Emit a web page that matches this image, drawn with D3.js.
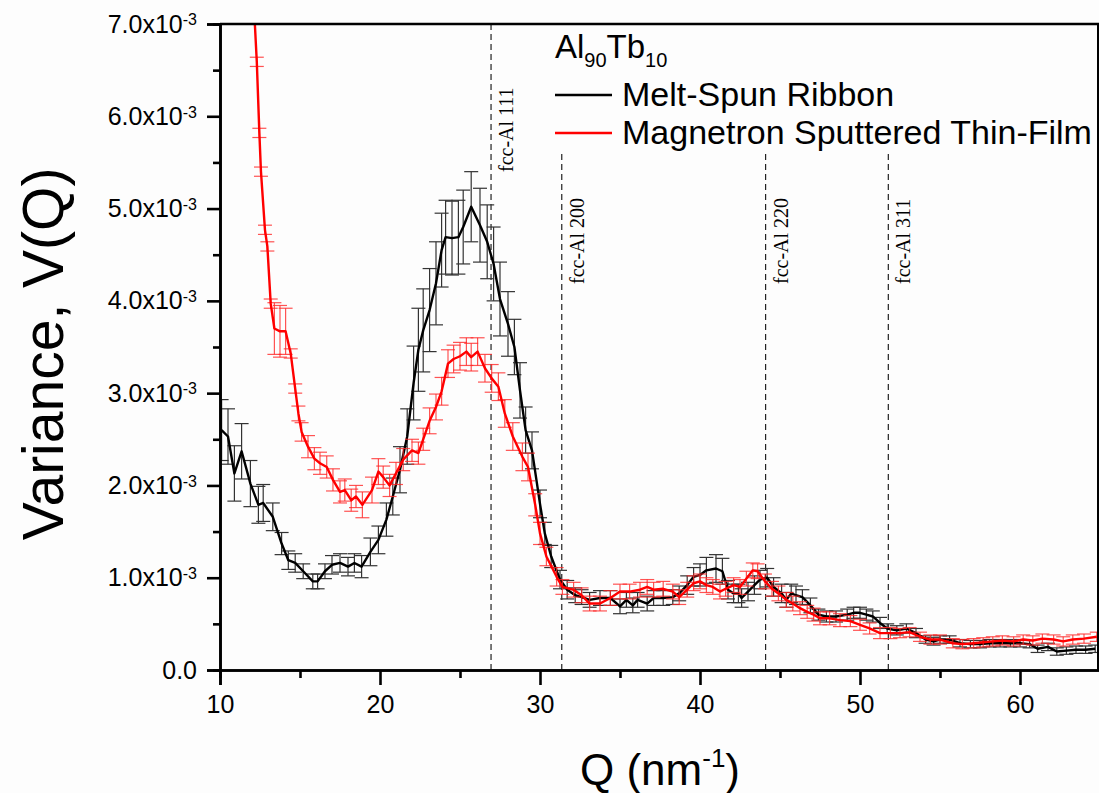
<!DOCTYPE html>
<html>
<head>
<meta charset="utf-8">
<script src="https://cdn.jsdelivr.net/npm/d3@7"></script>
<style>
  body { margin: 0; background: #fdfdfd; }
  text { font-family: "Liberation Sans", Arial, sans-serif; fill: #000; }
  .peak { font-family: "Liberation Serif", "DejaVu Serif", serif; font-size: 20px; }
</style>
</head>
<body>
<div id="chart"></div>
<script>
// Melt-spun ribbon (values in units of 1e-3)
const qRibbon = [10.1,10.5,10.9,11.35,11.9,12.4,12.7,13.3,13.85,14.27,14.7,15.2,15.8,16.1,16.56,17.0,17.5,18.0,18.4,18.85,
  19.4,19.9,20.4,20.8,21.25,21.7,22.1,22.4,22.7,23.1,23.5,23.85,24.1,24.5,24.9,25.2,25.7,26.25,26.7,27.1,
  27.5,28.0,28.4,28.75,29.1,29.5,30.0,30.3,30.7,31.25,31.7,32.2,32.6,33.1,33.75,34.4,35.0,35.4,35.8,36.1,
  36.7,37.1,37.7,38.3,38.7,39.2,39.6,40.0,40.4,41.0,41.4,41.75,42.1,42.4,42.6,43.0,43.4,43.75,44.2,44.6,
  45.1,45.4,45.7,46.0,46.4,46.9,47.4,47.9,48.5,49.2,49.6,50.0,50.4,50.8,51.25,51.7,52.3,52.9,53.5,54.1,
  54.6,55.0,55.6,56.25,56.9,57.5,58.1,58.75,59.4,60.0,60.6,61.1,61.75,62.3,62.9,63.5,64.1,64.7];
const vRibbon = [2.60,2.53,2.13,2.37,2.02,1.79,1.81,1.66,1.37,1.19,1.16,1.07,0.96,0.96,1.07,1.14,1.16,1.12,1.16,1.12,
  1.28,1.41,1.63,1.88,2.17,2.53,3.11,3.47,3.68,3.90,4.19,4.55,4.69,4.68,4.69,4.80,5.02,4.82,4.64,4.40,
  4.02,3.75,3.50,3.03,2.60,2.38,1.80,1.48,1.23,0.98,0.87,0.81,0.79,0.76,0.78,0.78,0.69,0.76,0.70,0.76,
  0.72,0.78,0.78,0.79,0.83,0.92,1.01,1.03,1.08,1.10,1.07,0.87,0.83,0.83,0.78,0.85,0.92,0.98,1.00,0.90,
  0.83,0.76,0.83,0.81,0.79,0.70,0.60,0.58,0.58,0.60,0.62,0.62,0.60,0.58,0.51,0.45,0.43,0.45,0.40,0.33,
  0.31,0.33,0.33,0.29,0.28,0.28,0.29,0.29,0.29,0.29,0.28,0.23,0.25,0.20,0.21,0.22,0.22,0.23];
const eRibbon = [0.33,0.30,0.30,0.30,0.25,0.20,0.20,0.15,0.12,0.10,0.10,0.08,0.08,0.08,0.08,0.10,0.10,0.10,0.10,0.12,
  0.15,0.15,0.18,0.20,0.25,0.30,0.40,0.45,0.45,0.45,0.45,0.40,0.40,0.40,0.40,0.40,0.38,0.40,0.40,0.40,
  0.40,0.35,0.30,0.30,0.25,0.20,0.15,0.12,0.12,0.10,0.10,0.08,0.08,0.08,0.08,0.08,0.08,0.08,0.08,0.08,
  0.08,0.08,0.08,0.08,0.08,0.10,0.10,0.12,0.14,0.15,0.14,0.10,0.10,0.10,0.10,0.10,0.10,0.10,0.10,0.10,
  0.10,0.08,0.10,0.10,0.08,0.08,0.06,0.06,0.06,0.06,0.06,0.06,0.06,0.06,0.06,0.05,0.05,0.05,0.05,0.04,
  0.04,0.04,0.04,0.04,0.04,0.04,0.04,0.04,0.04,0.04,0.04,0.04,0.04,0.04,0.04,0.04,0.04,0.04];

// Magnetron sputtered thin film (values in units of 1e-3)
const qFilm = [12.0,12.3,12.46,12.56,12.81,12.96,13.17,13.4,13.75,14.1,14.42,14.7,14.9,15.1,15.5,15.9,16.25,16.67,17.06,17.5,
  17.8,18.2,18.5,18.9,19.5,19.9,20.2,20.6,21.0,21.45,22.0,22.4,22.7,23.1,23.5,23.85,24.25,24.6,25.0,25.4,
  25.7,26.1,26.56,26.98,27.4,27.8,28.3,28.9,29.25,29.7,30.0,30.4,31.04,31.4,32.1,32.6,33.1,33.75,34.4,35.0,
  35.6,36.25,36.7,37.1,37.7,38.3,38.7,39.2,39.6,40.0,40.4,40.8,41.25,41.6,42.1,42.5,42.9,43.3,43.6,44.06,
  44.5,44.9,45.4,45.8,46.25,46.7,47.1,47.5,48.1,48.75,49.4,50.0,50.6,51.25,51.9,52.5,53.1,53.75,54.4,55.0,
  55.8,56.4,57.1,57.7,58.3,58.9,59.6,60.2,60.8,61.4,62.1,62.7,63.3,64.0,64.8];
const vFilm = [7.60,6.59,5.82,5.40,4.77,4.59,3.97,3.70,3.67,3.67,3.43,3.05,2.78,2.58,2.42,2.29,2.24,2.20,2.06,1.93,
  1.95,1.84,1.88,1.79,1.95,2.15,2.09,2.00,2.13,2.28,2.38,2.35,2.50,2.70,2.85,3.02,3.32,3.37,3.40,3.45,
  3.39,3.45,3.27,3.16,3.07,2.78,2.53,2.31,2.20,1.79,1.48,1.23,1.01,0.90,0.87,0.81,0.72,0.72,0.78,0.85,
  0.85,0.87,0.90,0.87,0.88,0.85,0.79,0.87,0.94,0.96,0.92,0.90,0.85,0.88,0.92,0.90,0.99,1.08,1.07,0.96,
  0.88,0.83,0.76,0.72,0.67,0.63,0.60,0.56,0.56,0.54,0.53,0.49,0.45,0.40,0.40,0.40,0.41,0.36,0.33,0.33,
  0.29,0.28,0.29,0.30,0.31,0.32,0.31,0.33,0.32,0.34,0.33,0.31,0.33,0.34,0.36];
const eFilm = [0.05,0.05,0.05,0.05,0.05,0.05,0.05,0.28,0.28,0.25,0.05,0.05,0.08,0.10,0.12,0.12,0.12,0.12,0.12,0.12,
  0.12,0.12,0.12,0.14,0.14,0.14,0.12,0.12,0.12,0.12,0.12,0.12,0.12,0.14,0.14,0.15,0.15,0.15,0.15,0.15,
  0.15,0.15,0.15,0.15,0.15,0.15,0.15,0.15,0.15,0.12,0.12,0.10,0.10,0.08,0.08,0.08,0.08,0.08,0.08,0.08,
  0.08,0.08,0.08,0.08,0.08,0.08,0.08,0.08,0.08,0.08,0.08,0.08,0.08,0.08,0.08,0.08,0.08,0.08,0.08,0.08,
  0.08,0.08,0.08,0.08,0.07,0.07,0.07,0.07,0.07,0.07,0.06,0.06,0.06,0.06,0.06,0.05,0.05,0.05,0.05,0.05,
  0.05,0.05,0.05,0.05,0.05,0.05,0.05,0.05,0.05,0.05,0.05,0.05,0.05,0.05,0.05];

const yTicks = [0, 1, 2, 3, 4, 5, 6, 7];
const xTicks = [10, 20, 30, 40, 50, 60];
const peakQ = [26.94, 31.36, 44.1, 51.77];
const peakLabels = ["fcc-Al 111", "fcc-Al 200", "fcc-Al 220", "fcc-Al 311"];
const seriesNames = ["Melt-Spun Ribbon", "Magnetron Sputtered Thin-Film"];

const width = 1099, height = 793;
const plotLeft = 220, plotRight = 1100, plotTop = 24, plotBottom = 670;

const svg = d3.select("#chart").append("svg")
    .attr("width", width)
    .attr("height", height);

const x = d3.scaleLinear().domain([10, 65]).range([plotLeft, plotRight]);
const y = d3.scaleLinear().domain([0, 7]).range([plotBottom, plotTop]);

svg.append("clipPath").attr("id", "plot")
    .append("rect")
    .attr("x", plotLeft).attr("y", plotTop)
    .attr("width", plotRight - plotLeft).attr("height", plotBottom - plotTop);

// peak marker lines
peakQ.forEach((q, i) => {
    svg.append("line")
        .attr("x1", x(q)).attr("x2", x(q))
        .attr("y1", plotBottom).attr("y2", i === 0 ? plotTop : 151)
        .attr("stroke", "#222")
        .attr("stroke-width", 1.2)
        .attr("stroke-dasharray", "6,4");
    svg.append("text")
        .attr("class", "peak")
        .attr("transform", `translate(${x(q) + 22},${i === 0 ? 172 : 284}) rotate(-90)`)
        .text(peakLabels[i]);
});

const drawSeries = (qs, vs, es, lineColor, barColor) => {
    const g = svg.append("g").attr("clip-path", "url(#plot)");
    const pts = qs.map((q, i) => ({ q: q, v: vs[i], e: es[i] }));
    const bars = g.selectAll(".bar")
        .data(pts)
        .enter()
        .append("g")
        .attr("stroke", barColor)
        .attr("stroke-width", 1.2);
    bars.append("line")
        .attr("x1", d => x(d.q)).attr("x2", d => x(d.q))
        .attr("y1", d => y(d.v - d.e)).attr("y2", d => y(d.v + d.e));
    bars.append("line")
        .attr("x1", d => x(d.q) - 7).attr("x2", d => x(d.q) + 7)
        .attr("y1", d => y(d.v - d.e)).attr("y2", d => y(d.v - d.e));
    bars.append("line")
        .attr("x1", d => x(d.q) - 7).attr("x2", d => x(d.q) + 7)
        .attr("y1", d => y(d.v + d.e)).attr("y2", d => y(d.v + d.e));

    const line = d3.line()
        .x(d => x(d.q))
        .y(d => y(d.v));
    g.append("path")
        .datum(pts)
        .attr("d", line)
        .attr("fill", "none")
        .attr("stroke", lineColor)
        .attr("stroke-width", 2.4)
        .attr("stroke-linejoin", "round");
};

drawSeries(qRibbon, vRibbon, eRibbon, "#000", "#333");
drawSeries(qFilm, vFilm, eFilm, "#ff0000", "rgba(255,40,40,0.8)");

// axes
const xAxis = svg.append("g")
    .attr("transform", `translate(0,${plotBottom})`)
    .call(d3.axisBottom(x).tickValues(xTicks).tickSize(15).tickPadding(10));
svg.append("g")
    .attr("transform", `translate(0,${plotBottom})`)
    .call(d3.axisBottom(x).tickValues([15, 25, 35, 45, 55]).tickSize(8).tickFormat(""));

const yAxis = svg.append("g")
    .attr("transform", `translate(${plotLeft},0)`)
    .call(d3.axisLeft(y).tickValues(yTicks).tickSize(13).tickPadding(10).tickFormat(d => d.toFixed(1)));
svg.append("g")
    .attr("transform", `translate(${plotLeft},0)`)
    .call(d3.axisLeft(y).tickValues([0.5, 1.5, 2.5, 3.5, 4.5, 5.5, 6.5]).tickSize(7).tickFormat(""));

svg.selectAll(".domain, .tick line").attr("stroke", "#000").attr("stroke-width", 2.6);
xAxis.selectAll("text").attr("font-size", 25).attr("font-family", null);
yAxis.selectAll("text")
    .attr("font-size", 25)
    .attr("font-family", null)
    .each(function (d) {
        if (d === 0) return;
        const t = d3.select(this);
        t.text(d.toFixed(1) + "x10");
        t.append("tspan").attr("font-size", 16).attr("dy", "-0.45em").text("-3");
    });

// frame
svg.append("line").attr("x1", plotLeft).attr("x2", plotRight).attr("y1", plotTop).attr("y2", plotTop)
    .attr("stroke", "#000").attr("stroke-width", 2.6);
svg.append("line").attr("x1", 1098).attr("x2", 1098).attr("y1", plotTop).attr("y2", plotBottom)
    .attr("stroke", "#000").attr("stroke-width", 2);

// legend
const title = svg.append("text").attr("x", 555).attr("y", 58).attr("font-size", 33);
title.append("tspan").text("Al");
title.append("tspan").attr("font-size", 20).attr("dy", 9).text("90");
title.append("tspan").attr("dy", -9).text("Tb");
title.append("tspan").attr("font-size", 20).attr("dy", 9).text("10");

const legendColors = ["#000", "#ff0000"];
seriesNames.forEach((name, i) => {
    const ly = 95 + i * 38;
    svg.append("line")
        .attr("x1", 555).attr("x2", 612)
        .attr("y1", ly).attr("y2", ly)
        .attr("stroke", legendColors[i]).attr("stroke-width", 2.4);
    svg.append("text")
        .attr("x", 622).attr("y", ly + 11)
        .attr("font-size", 34)
        .text(name);
});

// axis titles
svg.append("text")
    .attr("transform", "translate(63,354) rotate(-90)")
    .attr("text-anchor", "middle")
    .attr("font-size", 57)
    .text("Variance, V(Q)");

const xt = svg.append("text")
    .attr("x", 660).attr("y", 785)
    .attr("text-anchor", "middle")
    .attr("font-size", 44);
xt.append("tspan").text("Q (nm");
xt.append("tspan").attr("font-size", 26).attr("dy", -18).text("-1");
xt.append("tspan").attr("dy", 18).text(")");
</script>
</body>
</html>
